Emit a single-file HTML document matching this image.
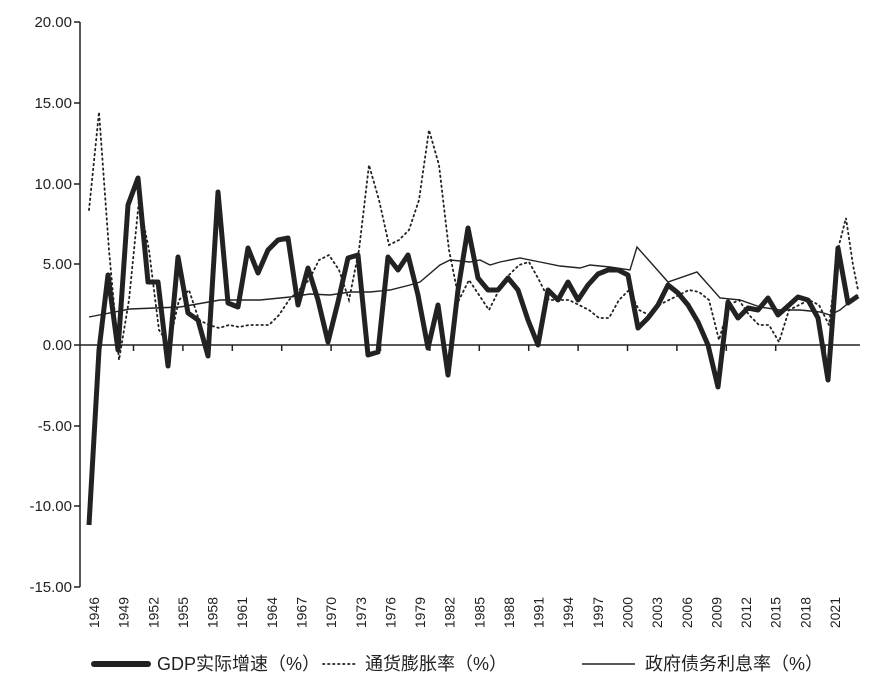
<!DOCTYPE html>
<html><head><meta charset="utf-8"><style>body{margin:0;background:#fff}svg{display:block}text{font-family:"Liberation Sans","Noto Sans CJK SC",sans-serif;fill:#222}</style></head><body>
<svg width="889" height="698" viewBox="0 0 889 698" xmlns="http://www.w3.org/2000/svg">
<g stroke="#222" stroke-width="1.5" fill="none">
<line x1="80" y1="22" x2="80" y2="587"/>
<line x1="80" y1="345" x2="860" y2="345"/>
<path d="M74 22H80M74 103H80M74 184H80M74 264H80M74 345H80M74 426H80M74 506H80M74 587H80"/>
<path id="xt" d=""/>
</g>
<g font-size="15" text-anchor="end">
<text x="72" y="27">20.00</text><text x="72" y="108">15.00</text><text x="72" y="189">10.00</text><text x="72" y="269">5.00</text><text x="72" y="350">0.00</text><text x="72" y="431">-5.00</text><text x="72" y="511">-10.00</text><text x="72" y="592">-15.00</text>
</g>
<g id="xl" font-size="14" text-anchor="end"></g>
<polyline fill="none" stroke="#222" stroke-width="1.8" stroke-dasharray="1.5,3.5" stroke-linecap="round" points="89,210 99,112 109,250 119,360 129,300 139,200 149,250 159,330 169,345 179,300 189,290 199,320 209,325 219,328 229,325 239,327 249,325 259,325 269,325 279,315 289,300 299,290 309,280 319,260 329,255 339,270 349,300 359,250 369,165 379,200 389,245 399,240 409,230 419,200 429,130 439,165 449,250 459,300 469,280 479,295 489,310 499,290 509,275 519,265 529,262 539,280 549,300 559,300 569,300 579,305 589,310 599,318 609,318 619,300 629,290 639,310 649,315 659,305 669,300 679,295 689,290 699,292 709,300 719,340 729,305 739,300 749,315 759,325 769,325 779,342 789,310 799,305 809,300 819,305 829,325 839,245 846,218 853,265 858,290"/>
<polyline fill="none" stroke="#222" stroke-width="1.4" points="89,317 130,309 180,307 220,300 260,300 290,297 310,294 330,295 350,292 370,292 390,290 410,285 420,282 440,265 450,260 470,262 480,260 490,265 500,262 520,258 540,262 560,266 580,268 590,265 610,267 630,270 637,247 668,282 697,272 720,298 740,300 760,307 780,310 800,310 820,312 830,315 840,310 858,295"/>
<polyline fill="none" stroke="#222" stroke-width="5" stroke-linejoin="round" points="89,525 99,350 108,275 118,350 128,205 138,178 148,282 158,282 168,366 178,257 188,313 198,320 208,356 218,192 228,303 238,307 248,248 258,273 268,250 278,240 288,238 298,305 308,268 318,300 328,342 338,302 348,258 358,255 368,355 378,352 388,257 398,270 408,255 418,295 428,348 438,305 448,375 458,290 468,228 478,278 488,290 498,290 508,278 518,290 528,320 538,345 548,290 558,300 568,282 578,300 588,285 598,274 608,270 618,270 628,275 638,328 648,318 658,305 668,285 678,293 688,305 698,322 708,345 718,387 728,302 738,318 748,308 758,310 768,298 778,315 788,306 798,297 808,300 818,318 828,380 838,248 848,303 858,296"/>
<line x1="94" y1="664" x2="148" y2="664" stroke="#222" stroke-width="6" stroke-linecap="round"/>
<line x1="323" y1="664" x2="357" y2="664" stroke="#222" stroke-width="1.8" stroke-dasharray="1.5,3.5" stroke-linecap="round"/>
<line x1="582" y1="664" x2="635" y2="664" stroke="#222" stroke-width="1.4"/>
<g font-size="18"><text x="157" y="670">GDP实际增速（%）</text><text x="365" y="670">通货膨胀率（%）</text><text x="645" y="670">政府债务利息率（%）</text></g>
<script>
var xt='';
for(var i=0;i<16;i++){var x=89+(4.5+5*i)*9.88;if(x<860)xt+='M'+x.toFixed(1)+' 345V351';}
document.getElementById('xt').setAttribute('d',xt);
var g=document.getElementById('xl');
for(var y=1946;y<=2021;y+=3){var x=89+(y-1946)*9.88+10;var t=document.createElementNS('http://www.w3.org/2000/svg','text');t.setAttribute('transform','translate('+x.toFixed(1)+',597) rotate(-90)');t.textContent=y;g.appendChild(t);}
</script>
</svg>
</body></html>
